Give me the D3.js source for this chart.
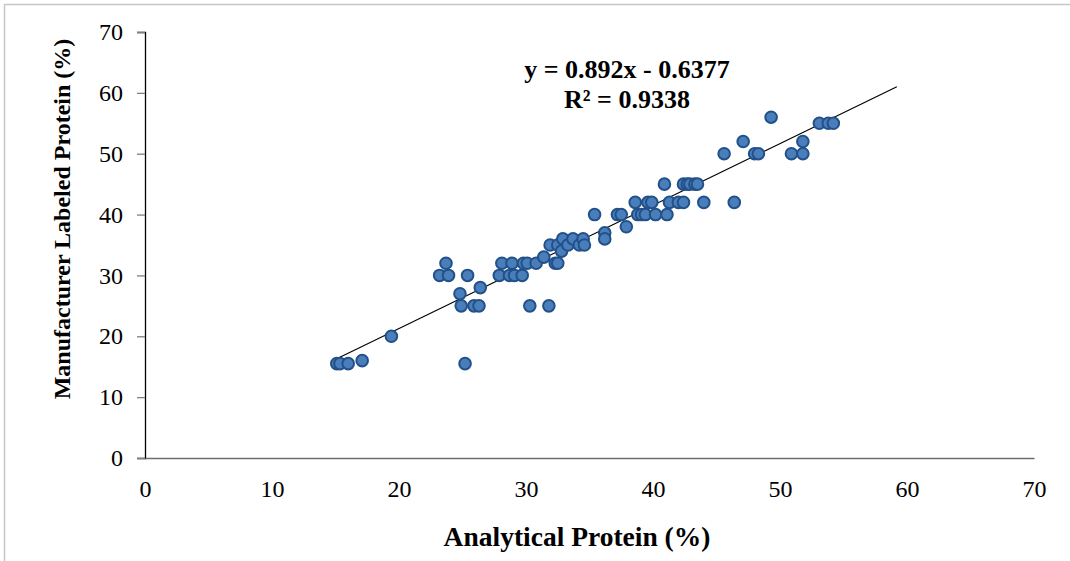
<!DOCTYPE html>
<html>
<head>
<meta charset="utf-8">
<script src="https://cdn.jsdelivr.net/npm/d3@7"></script>
<style>
html,body{margin:0;padding:0;background:#fff;}
svg{display:block;}
</style>
</head>
<body>
<svg id="chart" width="1070" height="561"></svg>
<script>
// ---- data ----
const analyticalProtein = [
  15.1, 15.35, 16.0, 17.1, 19.4, 25.2,
  23.7, 23.2, 23.9, 25.4, 24.8, 24.9, 25.9, 26.3, 26.4,
  27.9, 28.1, 28.9, 28.7, 29.1, 29.7, 29.8, 30.1, 30.8, 30.3, 31.8,
  31.4, 31.9, 32.5, 32.3, 32.5, 32.9, 32.8, 33.3, 33.7, 34.2, 34.5, 34.6,
  36.2, 36.2, 37.9, 35.4, 37.2, 37.5, 38.6, 38.8, 39.1, 39.4, 39.6, 39.9, 40.2,
  40.9, 41.1, 41.3, 42.0, 42.4, 42.4, 42.7, 42.9, 43.3, 43.5, 44.0,
  45.6, 46.4, 49.3, 47.1, 48.0, 48.3, 50.9, 51.8, 51.8, 53.1, 53.8, 54.2
];
const labeledProtein = [
  15.5, 15.5, 15.5, 16.0, 20.0, 15.5,
  32.0, 30.0, 30.0, 30.0, 27.0, 25.0, 25.0, 25.0, 28.0,
  30.0, 32.0, 32.0, 30.0, 30.0, 30.0, 32.0, 32.0, 32.0, 25.0, 25.0,
  33.0, 35.0, 35.0, 32.0, 32.0, 36.0, 34.0, 35.0, 36.0, 35.0, 36.0, 35.0,
  37.0, 36.0, 38.0, 40.0, 40.0, 40.0, 42.0, 40.0, 40.0, 40.0, 42.0, 42.0, 40.0,
  45.0, 40.0, 42.0, 42.0, 42.0, 45.0, 45.0, 45.0, 45.0, 45.0, 42.0,
  50.0, 42.0, 56.0, 52.0, 50.0, 50.0, 50.0, 50.0, 52.0, 55.0, 55.0, 55.0
];
const trendX = [15.1, 59.2];
const trendY = [16.3, 61.0];
const xTicks = [0, 10, 20, 30, 40, 50, 60, 70];
const yTicks = [0, 10, 20, 30, 40, 50, 60, 70];
const equationText = "y = 0.892x - 0.6377";
const r2Text = "R² = 0.9338";
const xTitle = "Analytical Protein (%)";
const yTitle = "Manufacturer Labeled Protein (%)";

// ---- layout ----
const svg = d3.select("#chart");
const serif = "'Liberation Serif','Times New Roman',serif";
const plot = {left: 145, right: 1034, top: 32, bottom: 458};

svg.append("rect").attr("width", 1070).attr("height", 561).attr("fill", "#fff");
// outer frame (left + top visible)
svg.append("path").attr("d", "M4.5,561 V4.5 H1070")
  .attr("fill", "none").attr("stroke", "#c6c6c6").attr("stroke-width", 1.5);

const x = d3.scaleLinear().domain([0, 70]).range([plot.left, plot.right]);
const y = d3.scaleLinear().domain([0, 70]).range([plot.bottom, plot.top]);

// y axis
const yAxis = svg.append("g").attr("transform", `translate(${plot.left},0)`)
  .call(d3.axisLeft(y).tickValues(yTicks).tickSize(8).tickPadding(14).tickFormat(d3.format("d")));
yAxis.select(".domain").attr("stroke", "#000").attr("stroke-width", 1.3);
yAxis.selectAll(".tick line").attr("stroke", "#7f7f7f").attr("stroke-width", 1.3);
yAxis.selectAll(".tick text").attr("font-family", serif).attr("font-size", 24).attr("fill", "#000");

// x axis (no tick marks)
const xAxis = svg.append("g").attr("transform", `translate(0,${plot.bottom})`)
  .call(d3.axisBottom(x).tickValues(xTicks).tickSize(0).tickSizeOuter(0).tickPadding(22).tickFormat(d3.format("d")));
xAxis.select(".domain").attr("stroke", "#6e6e6e").attr("stroke-width", 1.5);
xAxis.selectAll(".tick text").attr("font-family", serif).attr("font-size", 24).attr("fill", "#000");

// trendline
const pts = trendX.map((v, i) => [v, trendY[i]]);
svg.append("path")
  .attr("d", d3.line().x(d => x(d[0])).y(d => y(d[1]))(pts))
  .attr("fill", "none").attr("stroke", "#000").attr("stroke-width", 1.1);

// points
svg.append("g").selectAll("circle")
  .data(analyticalProtein.map((v, i) => [v, labeledProtein[i]]))
  .join("circle")
  .attr("cx", d => x(d[0])).attr("cy", d => y(d[1]))
  .attr("r", 5.8)
  .attr("fill", "#4a7ebb").attr("stroke", "#22518a").attr("stroke-width", 2);

// equation text
svg.append("text").attr("x", 627).attr("y", 78).attr("text-anchor", "middle")
  .attr("font-family", serif).attr("font-weight", "bold").attr("font-size", 26)
  .text(equationText);
svg.append("text").attr("x", 627).attr("y", 108).attr("text-anchor", "middle")
  .attr("font-family", serif).attr("font-weight", "bold").attr("font-size", 26)
  .text(r2Text);

// axis titles
svg.append("text").attr("x", 577).attr("y", 546).attr("text-anchor", "middle")
  .attr("font-family", serif).attr("font-weight", "bold").attr("font-size", 27.5)
  .text(xTitle);
svg.append("text").attr("transform", "translate(70,219) rotate(-90)").attr("text-anchor", "middle")
  .attr("font-family", serif).attr("font-weight", "bold").attr("font-size", 24)
  .text(yTitle);
</script>
</body>
</html>
